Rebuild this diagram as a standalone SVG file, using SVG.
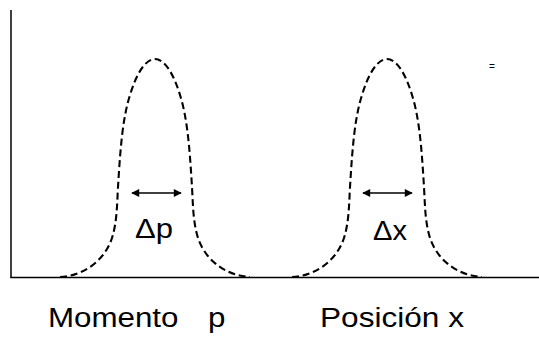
<svg xmlns="http://www.w3.org/2000/svg" width="539" height="337" viewBox="0 0 539 337">
<style>
.axis{stroke:#000;stroke-width:1.5;fill:none}
.curve{stroke:#000;stroke-width:2.1;fill:none;stroke-dasharray:7 3.8}
.arr{stroke:#000;stroke-width:1.4;fill:none}
.lbl{font-family:"Liberation Sans",Arial,sans-serif;font-size:27px;fill:#000}
</style>
<defs>
<marker id="ah" viewBox="0 0 10 10" refX="9" refY="5" markerWidth="9" markerHeight="8" markerUnits="userSpaceOnUse" orient="auto-start-reverse">
<path d="M0,0 L10,5 L0,10 Z" fill="#000"/>
</marker>
<path id="bell" d="M60,277 C82,276 104,262 112,238 C117,222 117,205 118,187 C120,155 122,120 130,95 C136,75 145,59 155,59 C165,59 174,75 180,95 C188,120 190,155 192,187 C193,205 193,222 198,238 C206,262 228,276 250,277"/>
</defs>
<g id="axes">
<line class="axis" x1="11" y1="10" x2="11" y2="277.5"/>
<line class="axis" x1="10.25" y1="277.5" x2="539" y2="277.5"/>
</g>
<g id="momentum-curve">
<use href="#bell" class="curve"/>
</g>
<g id="position-curve">
<use href="#bell" class="curve" transform="translate(232,0)"/>
</g>
<g id="connectors">
<line class="arr" x1="132" y1="193" x2="181" y2="193" marker-start="url(#ah)" marker-end="url(#ah)"/>
<line class="arr" x1="363" y1="193" x2="412" y2="193" marker-start="url(#ah)" marker-end="url(#ah)"/>
</g>
<g id="delta-p"><text class="lbl" x="135" y="238" textLength="38" lengthAdjust="spacingAndGlyphs">Δp</text></g>
<g id="delta-x"><text class="lbl" x="373" y="240" textLength="34" lengthAdjust="spacingAndGlyphs">Δx</text></g>
<g id="equals"><text x="492" y="69.5" text-anchor="middle" style="font-family:'Liberation Sans',Arial,sans-serif;font-size:10px">=</text></g>
<g id="label-momento"><text class="lbl" transform="translate(48,326.5) scale(1.16,1)" x="0" y="0">Momento<tspan x="138">p</tspan></text></g>
<g id="label-posicion"><text class="lbl" x="320" y="326.5" textLength="144" lengthAdjust="spacingAndGlyphs">Posición x</text></g>
</svg>
